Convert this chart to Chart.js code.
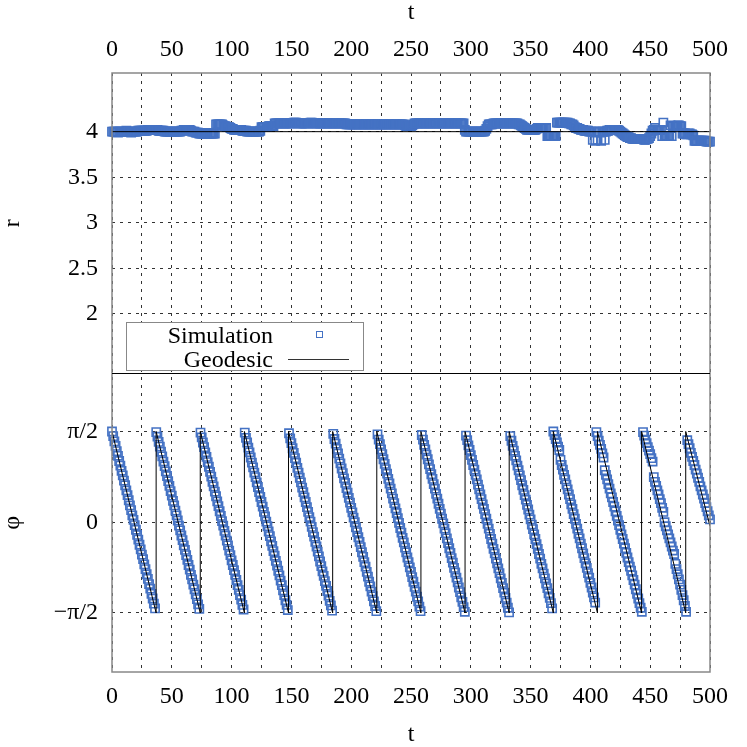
<!DOCTYPE html>
<html>
<head>
<meta charset="utf-8">
<script src="https://cdn.jsdelivr.net/npm/chart.js@4"></script>
<style>
  body { margin: 0; background: #fff; }
  #wrap { position: relative; width: 747px; height: 747px; font-family: "Liberation Serif", "Times New Roman", serif; }
  #legend { position: absolute; left: 126px; top: 322px; width: 236px; height: 47px; border: 1px solid #888; background: #fff; }
  .lbl { position: absolute; left: 0; width: 146px; text-align: right; font-size: 24px; line-height: 24px; color: #000; white-space: nowrap; }
  .sq { position: absolute; width: 5px; height: 5px; border: 1.3px solid #4472C4; }
  .ln { position: absolute; height: 0; border-top: 1px solid #333; }
</style>
</head>
<body>
<div id="wrap">
  <canvas id="c" width="747" height="747"></canvas>
  <div id="legend">
    <div class="lbl" style="top:0px">Simulation</div>
    <div class="lbl" style="top:24px">Geodesic</div>
    <div class="sq" style="left:189px; top:8px"></div>
    <div class="ln" style="left:161px; top:36px; width:61px"></div>
  </div>
</div>
<script>
// t axis
var tMin = 0, tMax = 500;
// r panel
var rTicks = [2, 2.5, 3, 3.5, 4];
var geoRT = [0, 500];
var geoR = [4, 4];
// phi panel
var phiTicks = [-Math.PI / 2, 0, Math.PI / 2];
var phiTickLabels = ["\u2212\u03c0/2", "0", "\u03c0/2"];
var geoPhiT = [0, 36.9, 36.9, 73.8, 73.8, 110.7, 110.7, 147.6, 147.6, 184.5, 184.5, 221.4, 221.4,
  258.3, 258.3, 295.2, 295.2, 332.1, 332.1, 369, 369, 405.9, 405.9, 442.8, 442.8, 479.7, 479.7, 500];
var geoPhi = [1.571, -1.571, 1.571, -1.571, 1.571, -1.571, 1.571, -1.571, 1.571, -1.571, 1.571, -1.571, 1.571,
  -1.571, 1.571, -1.571, 1.571, -1.571, 1.571, -1.571, 1.571, -1.571, 1.571, -1.571, 1.571, -1.571, 1.571, -0.07];

// simulation, one sample per unit of t (t = 0..500)
var simR = [
  4.00,4.00,4.00,4.00,4.00,3.99,4.00,4.00,4.00,4.00,
  4.00,4.00,4.01,4.00,4.00,4.00,3.99,4.00,4.00,4.00,
  4.00,4.00,4.01,4.01,4.01,4.01,4.01,4.01,4.01,4.01,
  4.02,4.02,4.02,4.02,4.02,4.02,4.02,4.02,4.02,4.01,
  4.01,4.01,4.01,4.01,4.00,4.00,4.00,4.00,4.00,4.00,
  4.00,4.00,4.00,4.00,4.00,4.00,4.00,4.00,4.01,4.01,
  4.02,4.02,4.02,4.02,4.02,4.02,4.01,4.00,4.00,4.00,
  3.99,3.99,3.99,3.98,3.98,3.98,3.98,3.98,3.98,3.98,
  3.98,3.98,3.98,3.98,3.98,3.98,3.98,4.08,4.08,4.08,
  4.08,4.08,4.08,4.07,4.06,4.06,4.05,4.05,4.05,4.04,
  4.03,4.03,4.02,4.02,4.02,4.02,4.02,4.02,4.02,4.01,
  4.01,4.01,4.01,4.00,4.00,4.00,4.00,4.00,4.00,4.00,
  4.00,4.00,4.00,4.00,4.01,4.05,4.05,4.05,4.05,4.05,
  4.05,4.06,4.06,4.06,4.06,4.06,4.09,4.09,4.09,4.09,
  4.09,4.09,4.09,4.09,4.09,4.09,4.09,4.09,4.09,4.09,
  4.09,4.09,4.10,4.10,4.10,4.09,4.09,4.09,4.09,4.09,
  4.09,4.09,4.09,4.09,4.09,4.09,4.10,4.10,4.09,4.09,
  4.09,4.09,4.09,4.09,4.09,4.09,4.09,4.09,4.09,4.09,
  4.09,4.09,4.09,4.09,4.09,4.09,4.09,4.09,4.09,4.09,
  4.09,4.09,4.09,4.09,4.09,4.09,4.08,4.08,4.08,4.08,
  4.08,4.08,4.08,4.08,4.08,4.08,4.08,4.08,4.08,4.08,
  4.08,4.08,4.08,4.08,4.08,4.08,4.08,4.08,4.08,4.08,
  4.08,4.08,4.08,4.08,4.08,4.08,4.08,4.08,4.08,4.08,
  4.08,4.08,4.08,4.08,4.08,4.08,4.08,4.08,4.08,4.08,
  4.08,4.08,4.08,4.08,4.08,4.07,4.06,4.06,4.06,4.06,
  4.06,4.07,4.08,4.09,4.09,4.09,4.09,4.09,4.09,4.09,
  4.09,4.09,4.09,4.09,4.09,4.09,4.09,4.09,4.09,4.09,
  4.09,4.09,4.09,4.09,4.09,4.09,4.09,4.09,4.09,4.09,
  4.09,4.09,4.09,4.09,4.09,4.09,4.09,4.09,4.09,4.09,
  4.09,4.09,4.09,4.09,4.09,4.02,4.00,4.00,4.00,4.00,
  4.00,4.00,4.00,4.00,4.00,4.00,4.00,4.00,4.00,4.00,
  4.00,4.00,4.01,4.03,4.06,4.08,4.08,4.08,4.08,4.09,
  4.09,4.09,4.09,4.09,4.09,4.09,4.09,4.09,4.09,4.09,
  4.09,4.09,4.09,4.09,4.09,4.09,4.09,4.09,4.09,4.09,
  4.08,4.08,4.07,4.06,4.05,4.04,4.03,4.02,4.02,4.02,
  4.02,4.02,4.02,4.02,4.02,4.03,4.04,4.04,4.04,4.04,
  4.04,4.04,4.04,4.04,3.95,3.95,3.95,3.95,3.95,3.95,
  3.95,3.95,4.10,4.10,4.10,4.10,4.10,4.10,4.10,4.10,
  4.10,4.10,4.09,4.09,4.08,4.08,4.07,4.05,4.04,4.04,
  4.03,4.03,4.02,4.02,4.02,4.01,4.01,4.01,4.01,4.00,
  4.00,4.00,3.91,4.00,3.90,4.00,3.91,4.00,4.00,3.90,
  4.00,4.00,3.91,4.00,4.01,4.01,4.02,4.02,4.02,4.02,
  4.02,4.02,4.02,4.02,4.01,4.00,3.99,3.98,3.97,3.96,
  3.95,3.94,3.94,3.93,3.93,3.92,3.92,3.92,3.92,3.92,
  3.92,3.92,3.92,3.92,3.92,3.91,3.91,3.92,3.92,3.93,
  3.95,3.98,4.01,4.02,4.04,4.02,4.02,4.02,4.02,4.02,
  3.95,4.10,3.95,3.95,3.95,3.95,3.95,4.07,3.95,4.06,
  4.06,4.06,4.06,4.07,4.07,4.06,4.06,3.98,3.98,3.98,
  3.97,3.97,3.98,3.98,3.97,3.97,3.96,3.90,3.90,3.90,
  3.90,3.90,3.90,3.90,3.90,3.90,3.90,3.89,3.89,3.89,
  3.89
];

var simPhi = [
  1.57,1.49,1.40,1.32,1.23,1.15,1.06,0.98,0.89,0.81,0.72,0.64,0.55,0.47,0.38,0.29,0.21,0.12,0.04,-0.05,-0.13,-0.22,-0.30,-0.39,-0.47,-0.56,-0.64,-0.73,-0.81,-0.90,-0.98,-1.07,-1.15,-1.24,-1.32,-1.41,-1.49,
  1.56,1.48,1.39,1.31,1.22,1.14,1.05,0.97,0.88,0.80,0.71,0.63,0.54,0.46,0.37,0.29,0.20,0.12,0.03,-0.06,-0.14,-0.23,-0.31,-0.40,-0.48,-0.57,-0.65,-0.74,-0.82,-0.91,-0.99,-1.08,-1.16,-1.25,-1.33,-1.42,-1.50,
  1.55,1.47,1.38,1.30,1.21,1.13,1.04,0.96,0.87,0.79,0.70,0.62,0.53,0.45,0.36,0.28,0.19,0.11,0.02,-0.06,-0.15,-0.23,-0.32,-0.40,-0.49,-0.57,-0.66,-0.74,-0.83,-0.91,-1.00,-1.09,-1.17,-1.26,-1.34,-1.43,-1.51,
  1.55,1.46,1.38,1.29,1.21,1.12,1.03,0.95,0.86,0.78,0.69,0.61,0.52,0.44,0.35,0.27,0.18,0.10,0.01,-0.07,-0.16,-0.24,-0.33,-0.41,-0.50,-0.58,-0.67,-0.75,-0.84,-0.92,-1.01,-1.09,-1.18,-1.26,-1.35,-1.43,-1.52,
  1.54,1.45,1.37,1.28,1.20,1.11,1.03,0.94,0.86,0.77,0.69,0.60,0.52,0.43,0.35,0.26,0.18,0.09,0.01,-0.08,-0.17,-0.25,-0.34,-0.42,-0.51,-0.59,-0.68,-0.76,-0.85,-0.93,-1.02,-1.10,-1.19,-1.27,-1.36,-1.44,-1.53,
  1.53,1.44,1.36,1.27,1.19,1.10,1.02,0.93,0.85,0.76,0.68,0.59,0.51,0.42,0.34,0.25,0.17,0.08,0.00,-0.09,-0.17,-0.26,-0.34,-0.43,-0.52,-0.60,-0.69,-0.77,-0.86,-0.94,-1.03,-1.11,-1.20,-1.28,-1.37,-1.45,-1.54,
  1.52,1.43,1.35,1.26,1.18,1.09,1.01,0.92,0.84,0.75,0.67,0.58,0.50,0.41,0.33,0.24,0.16,0.07,-0.01,-0.10,-0.18,-0.27,-0.35,-0.44,-0.52,-0.61,-0.69,-0.78,-0.86,-0.95,-1.03,-1.12,-1.20,-1.29,-1.37,-1.46,-1.54,
  1.51,1.43,1.34,1.26,1.17,1.09,1.00,0.92,0.83,0.75,0.66,0.58,0.49,0.41,0.32,0.23,0.15,0.06,-0.02,-0.11,-0.19,-0.28,-0.36,-0.45,-0.53,-0.62,-0.70,-0.79,-0.87,-0.96,-1.04,-1.13,-1.21,-1.30,-1.38,-1.47,-1.55,
  1.50,1.42,1.33,1.25,1.16,1.08,0.99,0.91,0.82,0.74,0.65,0.57,0.48,0.40,0.31,0.23,0.14,0.06,-0.03,-0.11,-0.20,-0.29,-0.37,-0.46,-0.54,-0.63,-0.71,-0.80,-0.88,-0.97,-1.05,-1.14,-1.22,-1.31,-1.39,-1.48,-1.56,
  1.49,1.41,1.32,1.24,1.15,1.07,0.98,0.90,0.81,0.73,0.64,0.56,0.47,0.39,0.30,0.22,0.13,0.05,-0.04,-0.12,-0.21,-0.29,-0.38,-0.46,-0.55,-0.63,-0.72,-0.80,-0.89,-0.97,-1.06,-1.14,-1.23,-1.31,-1.40,-1.49,
  1.57,1.51,1.44,1.38,1.31,1.25,1.08,0.99,0.91,0.82,0.74,0.65,0.57,0.48,0.40,0.31,0.23,0.14,0.06,-0.03,-0.11,-0.20,-0.28,-0.37,-0.45,-0.54,-0.62,-0.71,-0.79,-0.88,-0.96,-1.05,-1.13,-1.22,-1.30,-1.39,
  1.56,1.49,1.41,1.34,1.27,1.19,1.12,0.90,0.82,0.74,0.66,0.58,0.50,0.43,0.35,0.27,0.19,0.11,0.03,-0.05,-0.13,-0.21,-0.29,-0.37,-0.45,-0.53,-0.61,-0.69,-0.77,-0.84,-0.92,-1.00,-1.08,-1.16,-1.24,-1.32,-1.40,-1.48,-1.55,
  1.56,1.50,1.43,1.37,1.30,1.24,1.18,1.11,1.05,0.78,0.70,0.63,0.55,0.48,0.40,0.33,0.25,0.18,0.00,-0.07,-0.14,-0.21,-0.28,-0.35,-0.42,-0.49,-0.55,-0.72,-0.81,-0.90,-0.99,-1.08,-1.17,-1.26,-1.35,-1.45,-1.55,
  1.42,1.35,1.28,1.20,1.13,1.06,0.99,0.91,0.84,0.77,0.70,0.62,0.55,0.48,0.41,0.33,0.26,0.19,0.12,0.05
];

var serif = '"Liberation Serif", "Times New Roman", serif';
var tickFont = { family: serif, size: 24 };
var titleFont = { family: serif, size: 24, lineHeight: 1 };
var simColor = '#4472C4';

function pts(xs, ys) {
  var out = [];
  for (var i = 0; i < ys.length; i++) out.push({ x: xs[i], y: ys[i] });
  return out;
}
function simPts(ys) {
  var out = [];
  for (var i = 0; i < ys.length; i++) out.push({ x: i, y: ys[i] });
  return out;
}

// gray box round the plot and the black line between the two panels
var framePlugin = {
  id: 'frame',
  afterDraw: function(chart) {
    var ctx = chart.ctx, a = chart.chartArea;
    ctx.save();
    ctx.strokeStyle = '#888';
    ctx.lineWidth = 1.5;
    ctx.strokeRect(a.left, a.top, a.right - a.left, a.bottom - a.top);
    var y = Math.round(chart.scales.yR.bottom) + 0.5;
    ctx.strokeStyle = '#000';
    ctx.lineWidth = 1;
    ctx.beginPath();
    ctx.moveTo(a.left, y);
    ctx.lineTo(a.right, y);
    ctx.stroke();
    ctx.restore();
  }
};

function tLabel(v) { return v % 50 === 0 ? String(v) : ''; }

var ctx = document.getElementById('c').getContext('2d');
var chart = new Chart(ctx, {
  type: 'scatter',
  data: {
    datasets: [
      { type: 'line', label: 'Geodesic', data: pts(geoRT, geoR), yAxisID: 'yR', borderColor: '#000', borderWidth: 1, pointRadius: 0, fill: false, tension: 0 },
      { type: 'line', label: 'Geodesic', data: pts(geoPhiT, geoPhi), yAxisID: 'yPhi', borderColor: '#000', borderWidth: 1, pointRadius: 0, fill: false, tension: 0 },
      { label: 'Simulation', data: simPts(simR), yAxisID: 'yR', pointStyle: 'rect', pointRadius: 5.8, borderColor: simColor, borderWidth: 1.6, backgroundColor: 'rgba(0,0,0,0)', clip: false },
      { label: 'Simulation', data: simPts(simPhi), yAxisID: 'yPhi', pointStyle: 'rect', pointRadius: 5.8, borderColor: simColor, borderWidth: 1.6, backgroundColor: 'rgba(0,0,0,0)', clip: false }
    ]
  },
  options: {
    responsive: false,
    animation: false,
    devicePixelRatio: 1,
    layout: { padding: { left: 0, right: 37, top: 0, bottom: 0 } },
    plugins: { legend: { display: false }, tooltip: { enabled: false } },
    scales: {
      x: {
        type: 'linear', position: 'bottom', min: tMin, max: tMax,
        ticks: { stepSize: 25, autoSkip: false, maxRotation: 0, padding: 10, color: '#000', font: tickFont, callback: tLabel },
        grid: { color: '#333', lineWidth: 1, drawTicks: false },
        border: { display: false, dash: [3, 5] },
        title: { display: true, text: 't', color: '#000', font: titleFont, padding: { top: 0, bottom: 0 } },
        afterFit: function(s) { s.height = 75; }
      },
      x2: {
        type: 'linear', position: 'top', min: tMin, max: tMax,
        ticks: { stepSize: 25, autoSkip: false, maxRotation: 0, padding: 9, color: '#000', font: tickFont, callback: tLabel },
        grid: { display: false, drawTicks: false },
        border: { display: false },
        title: { display: true, text: 't', color: '#000', font: titleFont, padding: { top: 1, bottom: 0 } },
        afterFit: function(s) { s.height = 73; }
      },
      yPhi: {
        type: 'linear', position: 'left', stack: 'panels', stackWeight: 299, min: -2.592, max: 2.574,
        afterBuildTicks: function(s) { s.ticks = phiTicks.map(function(v) { return { value: v }; }); },
        ticks: { padding: 14, color: '#000', font: tickFont, callback: function(v, i) { return phiTickLabels[i]; } },
        grid: { color: '#333', lineWidth: 1, drawTicks: false },
        border: { display: false, dash: [3, 5] },
        title: { display: true, text: '\u03c6', color: '#000', font: titleFont, padding: { top: 1, bottom: 0 } },
        afterFit: function(s) { s.width = 112; }
      },
      yR: {
        type: 'linear', position: 'left', stack: 'panels', stackWeight: 301, min: 1.345, max: 4.644,
        afterBuildTicks: function(s) { s.ticks = rTicks.map(function(v) { return { value: v }; }); },
        ticks: { padding: 14, color: '#000', font: tickFont, callback: function(v) { return String(v); } },
        grid: { color: '#333', lineWidth: 1, drawTicks: false },
        border: { display: false, dash: [3, 5] },
        title: { display: true, text: 'r', color: '#000', font: titleFont, padding: { top: 1, bottom: 0 } },
        afterFit: function(s) { s.width = 112; }
      }
    }
  },
  plugins: [framePlugin]
});
</script>
</body>
</html>
